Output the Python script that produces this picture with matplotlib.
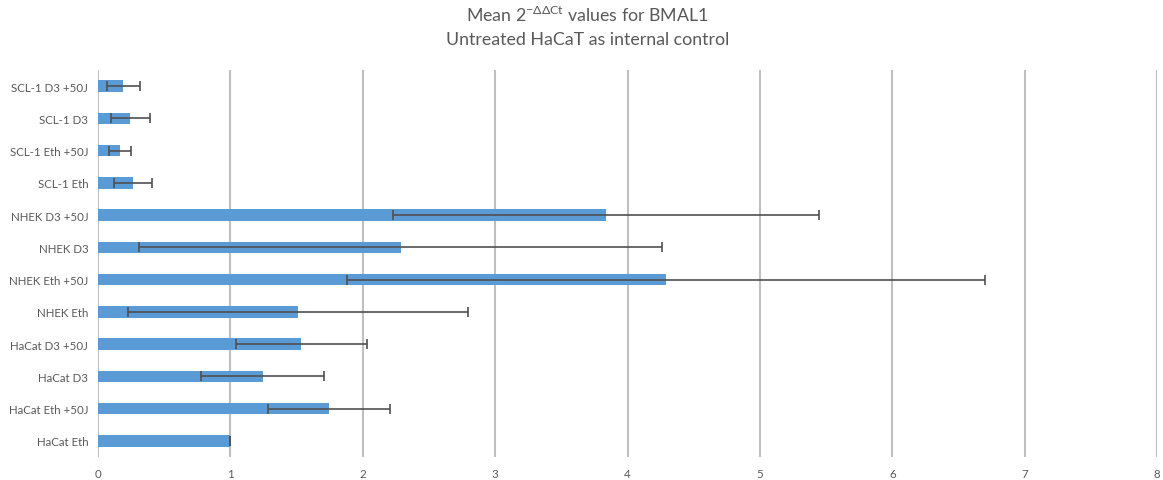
import matplotlib
matplotlib.use('Agg')
import matplotlib.pyplot as plt
import numpy as np

plt.rcParams['font.family'] = ['Lato', 'DejaVu Sans']
plt.rcParams['mathtext.fontset'] = 'custom'
plt.rcParams['mathtext.rm'] = 'Open Sans'
plt.rcParams['mathtext.it'] = 'Open Sans'

# samples, bottom to top
samples = ['HaCat Eth', 'HaCat Eth +50J', 'HaCat D3', 'HaCat D3 +50J',
           'NHEK Eth', 'NHEK Eth +50J', 'NHEK D3', 'NHEK D3 +50J',
           'SCL-1 Eth', 'SCL-1 Eth +50J', 'SCL-1 D3', 'SCL-1 D3 +50J']
mean_ddct = [1.0, 1.745, 1.244, 1.534,
             1.512, 4.293, 2.286, 3.84,
             0.266, 0.168, 0.244, 0.19]
sd_ddct = [0.0, 0.46, 0.463, 0.495,
           1.283, 2.41, 1.976, 1.61,
           0.142, 0.085, 0.146, 0.125]
x_ticks = [0, 1, 2, 3, 4, 5, 6, 7, 8]

txt = '#595959'

fig = plt.figure(figsize=(11.63, 4.81), dpi=100)
ax = fig.add_axes([98 / 1163, 1 - 458 / 481, (1157 - 98) / 1163, (458 - 71) / 481])

y = np.arange(len(samples))
ax.barh(y, mean_ddct, height=0.36, color='#5B9BD5', zorder=3)
ax.errorbar(mean_ddct, y, xerr=sd_ddct, fmt='none', ecolor='#505050',
            elinewidth=1.2, capsize=3.5, capthick=1.2, zorder=4)

ax.set_xlim(0, 8)
ax.set_ylim(-0.5, len(samples) - 0.5)
ax.set_xticks(x_ticks)
ax.set_yticks(y)
ax.set_yticklabels(samples)
ax.tick_params(axis='both', length=0, labelsize=8.3, colors=txt)
ax.tick_params(axis='x', pad=8)
ax.tick_params(axis='y', pad=7)
ax.xaxis.grid(True, color='#BFBFBF', linewidth=1.5, zorder=0)
for s in ax.spines.values():
    s.set_visible(False)

fig.text(0.505, 1 - 15 / 481, r'Mean 2$^{\mathregular{-\Delta\Delta Ct}}$ values for BMAL1',
         ha='center', va='center', fontsize=12.8, color=txt)
fig.text(0.505, 1 - 40 / 481, 'Untreated HaCaT as internal control',
         ha='center', va='center', fontsize=12.8, color=txt)

fig.savefig('out.png', dpi=100)
